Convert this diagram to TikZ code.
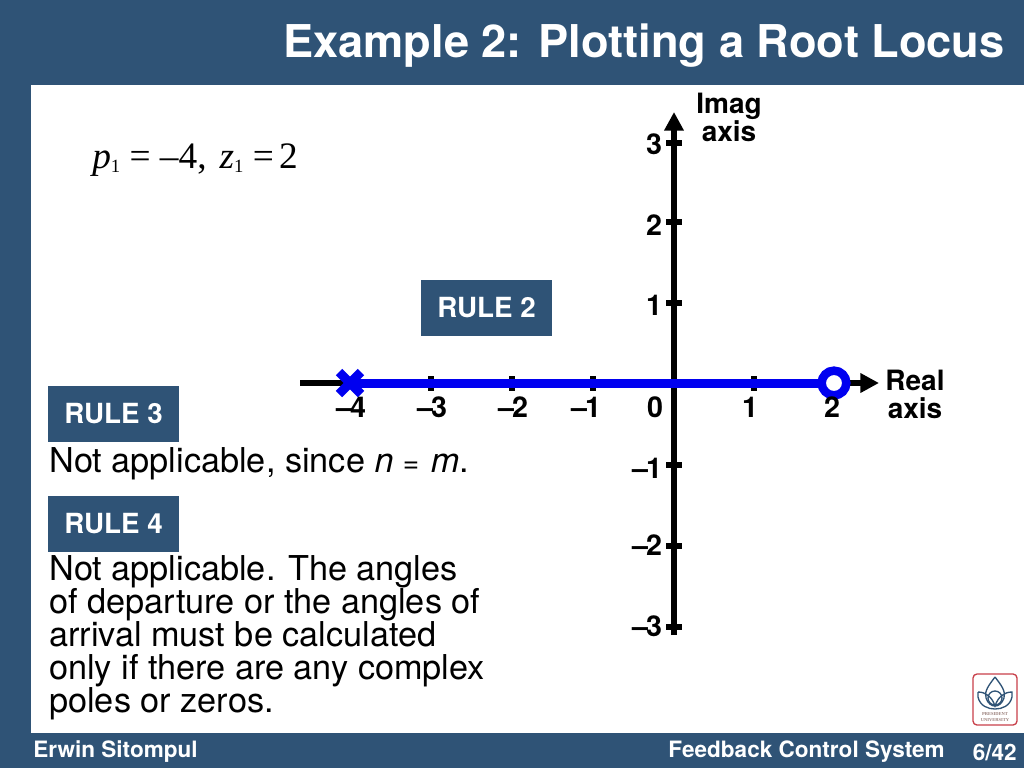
\documentclass[tikz,border=0pt]{standalone}
\usepackage{fontspec}
\setmainfont{TeX Gyre Heros}
\newfontfamily\serifface{Liberation Serif}
\usetikzlibrary{positioning, arrows.meta, calc}
\definecolor{slideblue}{HTML}{2F5376}
\definecolor{logored}{HTML}{C8404A}
\definecolor{logotan}{HTML}{9A7F7A}
\definecolor{axisblue}{HTML}{0000F0}
\newcommand{\neglabel}[1]{–\kern-1.5pt #1}

\begin{document}
\begin{tikzpicture}[
    x=0.75pt, y=-0.75pt,
    >={Triangle[length=14pt, width=14pt]},
    title/.style     = {font=\bfseries\fontsize{33.9}{34}\selectfont, text=white, inner sep=0pt},
    footer/.style    = {font=\bfseries\fontsize{16.9}{17}\selectfont, text=white, inner sep=0pt},
    rulebox/.style   = {rectangle, fill=slideblue, text=white, inner sep=0pt,
                        minimum width=98.5pt, minimum height=42pt,
                        font=\bfseries\fontsize{20.8}{20.8}\selectfont},
    body/.style      = {font=\fontsize{25.7}{24.8}\selectfont, inner sep=0pt, align=left},
    ticklabel/.style = {font=\bfseries\fontsize{21.5}{21.5}\selectfont, inner sep=0pt},
    axislabel/.style = {font=\bfseries\fontsize{21}{21}\selectfont, inner sep=0pt, align=center},
    axis/.style      = {line width=5pt, black},
    tick/.style      = {line width=5pt, black},
    locus/.style     = {line width=6.75pt, axisblue},
    logoline/.style  = {slideblue, line width=1pt}
]
% Slide background
\fill[slideblue] (0,0) rectangle (1024,768);
\fill[white] (31,85) rectangle (1024,733);
\useasboundingbox (0,0) rectangle (1024,768);

% Title and footer
\node[title, anchor=east] (heading) at (1005,46) {Example 2: Plotting a Root Locus};
\node[footer, anchor=west] (author) at (33,752) {Erwin Sitompul};
\node[footer, anchor=east] (course) at (945,752) {Feedback Control System};
\node[footer, anchor=east] (page) at (1017,752) {6/42};

% Poles and zeros given
\node[anchor=base west, inner sep=0pt, font=\serifface\fontsize{28}{28}\selectfont] (given) at (92,168)
    {\textit{p}{\fontsize{14}{14}\selectfont\raisebox{-3pt}{1}} = –4,\hspace{9.75pt}\textit{z}{\fontsize{14}{14}\selectfont\raisebox{-3pt}{1}} =\hspace{-3pt} 2};

% Rule boxes and their texts
\node[rulebox] (rule2) at (486.5,308) {RULE 2};
\node[rulebox] (rule3) at (113.5,414) {RULE 3};
\node[rulebox] (rule4) at (113.5,524) {RULE 4};
\node[body, anchor=north west] (text3) at (49,447)
    {Not applicable, since \textit{n}\hspace{7pt}{\fontsize{21}{21}\selectfont =}\hspace{1.5pt} \textit{m}.};
\node[body, anchor=north west] (text4) at (49,555)
    {Not applicable. The angles\\of departure or the angles of\\arrival must be calculated\\only if there are any complex\\poles or zeros.};

% Axes
\coordinate (realL) at (300,383);
\coordinate (realR) at (879,383);
\coordinate (imagB) at (674,635);
\coordinate (imagT) at (674,112);
\coordinate (pole) at (350,383);
\coordinate (zero) at (834,383);
\draw[axis, ->] (realL) -- (realR);
\draw[axis, ->] (imagB) -- (imagT);

% Ticks on real axis
\draw[tick] (431,376) -- (431,391);
\draw[tick] (512,376) -- (512,391);
\draw[tick] (593,376) -- (593,391);
\draw[tick] (754,376) -- (754,391);

% Ticks on imaginary axis
\draw[tick] (666,143) -- (682,143);
\draw[tick] (666,222) -- (682,222);
\draw[tick] (666,303) -- (682,303);
\draw[tick] (666,465) -- (682,465);
\draw[tick] (666,546) -- (682,546);
\draw[tick] (666,627) -- (682,627);

% Root locus
\draw[locus] (pole) -- (zero);
\draw[locus] ($(pole)+(-11,-11)$) -- ($(pole)+(11,11)$);
\draw[locus] ($(pole)+(-11,11)$) -- ($(pole)+(11,-11)$);
\node[circle, draw=axisblue, fill=white, line width=6.4pt, inner sep=0pt, minimum size=18.5pt] (zeromark) at (zero) {};

% Tick labels
\node[ticklabel] (xm4) at (351,407) {\neglabel{4}};
\node[ticklabel] (xm3) at (432,407) {\neglabel{3}};
\node[ticklabel] (xm2) at (513,407) {\neglabel{2}};
\node[ticklabel] (xm1) at (586,407) {\neglabel{1}};
\node[ticklabel] (x0) at (655,407) {0};
\node[ticklabel] (x1) at (750,407) {1};
\node[ticklabel] (x2) at (832,407) {2};
\node[ticklabel] (y3) at (654,144) {3};
\node[ticklabel] (y2) at (654,225) {2};
\node[ticklabel] (y1) at (654,305) {1};
\node[ticklabel] (ym1) at (647,468) {\neglabel{1}};
\node[ticklabel] (ym2) at (647,545) {\neglabel{2}};
\node[ticklabel] (ym3) at (647,626) {\neglabel{3}};

% Axis names
\node[axislabel] (imagname) at (729,117) {Imag\\axis};
\node[axislabel] (realname) at (915,394) {Real\\axis};

% University logo
\draw[logored, line width=1pt, fill=white, rounded corners=3pt] (973,674) rectangle (1017,725);
\draw[logoline] (995,677) .. controls (989,685) and (984,691) .. (986,698)
    .. controls (988,704) and (992,706) .. (995,706) .. controls (998,706) and (1002,704) .. (1004,698)
    .. controls (1006,691) and (1001,685) .. (995,677);
\draw[logoline] (978,692) -- (978,697) .. controls (980,706) and (988,709) .. (995,709)
    .. controls (1002,709) and (1010,706) .. (1012,697) -- (1012,692)
    .. controls (1004,692) and (998,697) .. (995,706)
    .. controls (992,697) and (986,692) .. (978,692);
\draw[logoline] (995,698) circle (7);
\node[inner sep=0pt, align=center, text=logotan, font=\serifface\bfseries\fontsize{3.4}{5}\selectfont] (logotext) at (995,717) {PRESIDENT\\UNIVERSITY};
\end{tikzpicture}
\end{document}
